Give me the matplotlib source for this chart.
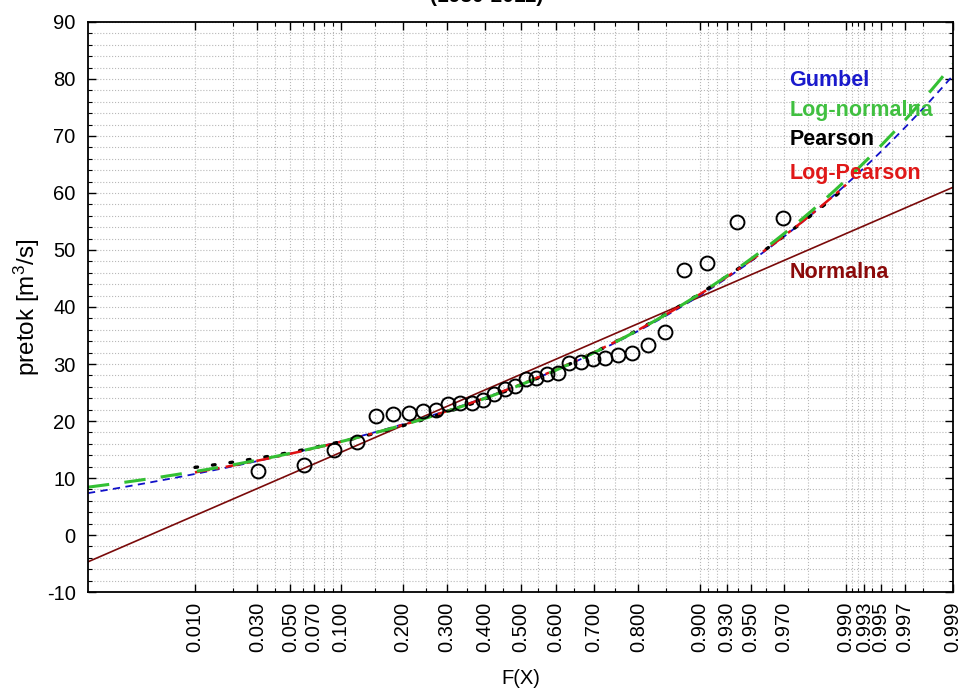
import numpy as np
import matplotlib
matplotlib.use("Agg")
import matplotlib.pyplot as plt
from matplotlib.ticker import MultipleLocator, FixedLocator
from statistics import NormalDist

plt.rcParams["font.family"] = ["Liberation Sans", "DejaVu Sans"]
plt.rcParams["mathtext.default"] = "regular"
plt.rcParams["axes.unicode_minus"] = False

# observed annual flows, sorted (plotting position i/(n+1))
flows = [11.2, 12.3, 15.0, 16.3, 20.8, 21.2, 21.4, 21.7, 22.0, 22.9,
         23.1, 23.2, 23.6, 24.7, 25.6, 26.2, 27.4, 27.6, 28.2, 28.4,
         30.1, 30.3, 30.8, 31.0, 31.5, 31.9, 33.3, 35.7, 46.5, 47.7,
         54.9, 55.6]
rank = np.arange(1, len(flows) + 1)
prob = rank / (len(flows) + 1)

# fitted distribution parameters
mean_q, std_q, skew_q = 28.15, 10.63, 1.1          # normal / Gumbel / Pearson III
mean_ln, std_ln, skew_ln = 3.271, 0.370, -0.05     # log-normal / log-Pearson III

tick_probs = [0.010, 0.030, 0.050, 0.070, 0.100, 0.200, 0.300, 0.400, 0.500,
              0.600, 0.700, 0.800, 0.900, 0.930, 0.950, 0.970, 0.990, 0.993,
              0.995, 0.997, 0.999]
minor_probs = (list(np.arange(0.01, 0.1, 0.01)) + list(np.arange(0.1, 0.9, 0.05))
               + list(np.arange(0.9, 0.99, 0.01)) + list(np.arange(0.99, 0.9995, 0.001)))

nd = NormalDist()
ppf = np.vectorize(nd.inv_cdf, otypes=[float])
cdf = np.vectorize(nd.cdf, otypes=[float])


def fwd(p):
    p = np.clip(np.asarray(p, dtype=float), 1e-7, 1 - 1e-7)
    return ppf(p)


def inv(z):
    return cdf(np.asarray(z, dtype=float))


def k_pearson(z, g):
    # Wilson-Hilferty frequency factor
    return (2.0 / g) * ((1 + g * z / 6.0 - g ** 2 / 36.0) ** 3 - 1)


p_full = cdf(np.linspace(fwd(0.001), fwd(0.999), 300))
p_mid = cdf(np.linspace(fwd(0.01), fwd(0.99), 300))
z_full = fwd(p_full)
z_mid = fwd(p_mid)

alpha = std_q * np.sqrt(6) / np.pi
u = mean_q - 0.5772 * alpha
gumbel = u - alpha * np.log(-np.log(p_full))
lognorm = np.exp(mean_ln + std_ln * z_full)
pearson = mean_q + std_q * k_pearson(z_mid, skew_q)
logpearson = np.exp(mean_ln + std_ln * k_pearson(z_mid, skew_ln))
normal = mean_q + std_q * z_full

fig = plt.figure(figsize=(9.63, 6.93), dpi=100)
ax = fig.add_axes([0.0914, 0.1457, 0.8982, 0.8226])
ax.set_xscale("function", functions=(fwd, inv))

ax.plot(p_full, normal, "-", color="#7a0a0a", lw=1.2)
ax.plot(p_full, gumbel, color="#1010c8", lw=1.3, dashes=(4, 3))
ax.plot(p_mid, pearson, color="black", lw=2.4, dashes=(0.8, 4.5), dash_capstyle="round")
ax.plot(p_mid, logpearson, color="#e01010", lw=1.8, dashes=(6, 2.5, 1.5, 2.5))
ax.plot(p_full, lognorm, color="#33c033", lw=2.2, dashes=(7, 5))
ax.plot(prob, flows, "o", mfc="none", mec="black", mew=1.4, ms=10)

ax.set_xlim(0.001, 0.999)
ax.set_ylim(-10, 90)
ax.xaxis.set_major_locator(FixedLocator(tick_probs))
ax.xaxis.set_minor_locator(FixedLocator(minor_probs))
ax.set_xticklabels([f"{t:.3f}" for t in tick_probs], rotation=90)
ax.yaxis.set_major_locator(MultipleLocator(10))
ax.yaxis.set_minor_locator(MultipleLocator(2))

ax.grid(True, which="both", color="#b8b8b8", linestyle=":", lw=0.8)
ax.tick_params(which="both", direction="in", top=True, right=True, labelsize=14.5)
ax.tick_params(which="major", length=6, width=1)
ax.tick_params(which="minor", length=3, width=0.8)
ax.tick_params(axis="y", pad=9)
ax.tick_params(axis="x", pad=7)
for s in ax.spines.values():
    s.set_linewidth(1.3)

ax.set_xlabel("F(X)", fontsize=14.5, labelpad=12)
ax.set_ylabel("pretok [m$^3$/s]", fontsize=17.5, labelpad=3)

labels = ["Gumbel", "Log-normalna", "Pearson", "Log-Pearson", "Normalna"]
label_colors = ["#1a1acc", "#40c040", "black", "#e01818", "#8b0a0a"]
label_y = [0.898, 0.844, 0.793, 0.735, 0.561]
for txt, c, yy in zip(labels, label_colors, label_y):
    ax.text(0.811, yy, txt, color=c, fontsize=15.5, fontweight="bold",
            transform=ax.transAxes, va="center", ha="left")

fig.text(0.505, 1 - 6 / 693, "(1980-2011)", ha="center", va="bottom",
         fontsize=15, fontweight="bold")

fig.savefig("out.png", dpi=100)
